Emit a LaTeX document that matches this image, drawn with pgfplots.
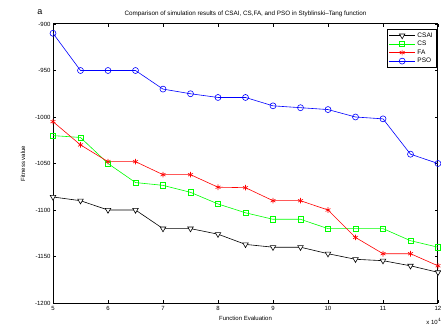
\documentclass[border=0pt]{standalone}
\usepackage{fontspec}
\setmainfont{Liberation Sans}
\usepackage{pgfplots}
\pgfplotsset{compat=1.18}
\begin{document}
\begin{tikzpicture}[x=1pt,y=1pt]
\useasboundingbox (0,0) rectangle (441,329);
\begin{axis}[
  at={(53pt,26pt)}, anchor=south west,
  width=385pt, height=279pt, scale only axis,
  xmin=5, xmax=12, ymin=-1200, ymax=-900,
  xtick={5,6,7,8,9,10,11,12},
  ytick={-1200,-1150,-1100,-1050,-1000,-950,-900},
  tick align=inside, major tick length=3pt,
  tick style={black, line width=0.5pt},
  axis line style={black, line width=1pt},
  /pgf/number format/assume math mode=true,
  /pgf/number format/1000 sep={},
  tick label style={font=\fontsize{6}{7}\selectfont},
  xticklabel style={yshift=0pt},
  yticklabel style={xshift=1pt},
  xlabel={Function Evaluation}, ylabel={Fitness value},
  label style={font=\fontsize{6}{7}\selectfont},
  xlabel style={yshift=1pt},
  ylabel style={yshift=3pt},
  title={Comparison of simulation results of CSAI, CS,FA, and PSO in Styblinski--Tang function},
  title style={font=\fontsize{6.3}{7}\selectfont, yshift=-2pt},
  legend style={at={(rel axis cs:0.996,0.983)}, anchor=north east, font=\fontsize{6.5}{7.5}\selectfont,
    draw=black, line width=0.6pt, inner sep=1.5pt, row sep=-1.5pt, legend cell align=left},
  legend image code/.code={\draw[#1] (0pt,0pt) -- (26pt,0pt); \draw[#1, only marks] plot coordinates {(13pt,0pt)};},
  every axis plot/.append style={line width=0.6pt},
  clip=false,
]
\addplot[black, mark=triangle*, mark options={rotate=180, solid, fill=white, draw=black, scale=1.6}] coordinates {
(5,-1086) (5.5,-1090) (6,-1100) (6.5,-1100) (7,-1120) (7.5,-1120) (8,-1126) (8.5,-1137)
(9,-1140) (9.5,-1140) (10,-1147) (10.5,-1153) (11,-1154.5) (11.5,-1160) (12,-1167)};
\addlegendentry{CSAI}
\addplot[green, mark=square, mark options={solid, fill=none, scale=1.3}] coordinates {
(5,-1020) (5.5,-1022) (6,-1050) (6.5,-1070.5) (7,-1073.5) (7.5,-1081) (8,-1093.5) (8.5,-1103)
(9,-1110) (9.5,-1110) (10,-1120) (10.5,-1120) (11,-1120) (11.5,-1133) (12,-1140)};
\addlegendentry{CS}
\addplot[red, mark=asterisk, mark options={solid, scale=1.4}] coordinates {
(5,-1005) (5.5,-1030) (6,-1048) (6.5,-1048) (7,-1062) (7.5,-1062) (8,-1075.5) (8.5,-1076)
(9,-1090) (9.5,-1090) (10,-1100) (10.5,-1129.5) (11,-1147) (11.5,-1147) (12,-1160)};
\addlegendentry{FA}
\addplot[blue, mark=o, mark options={solid, scale=1.5}] coordinates {
(5,-910) (5.5,-950) (6,-950) (6.5,-950) (7,-970) (7.5,-975) (8,-979) (8.5,-979)
(9,-988) (9.5,-990) (10,-992) (10.5,-1000) (11,-1002) (11.5,-1040) (12,-1050)};
\addlegendentry{PSO}
\node[font=\fontsize{6}{7}\selectfont, anchor=north east, inner sep=0pt] at (rel axis cs:1.01,-0.055) {x 10$^4$};
\end{axis}
\node[font=\fontsize{9}{10}\selectfont, anchor=center] at (40,317) {a};
\end{tikzpicture}
\end{document}
